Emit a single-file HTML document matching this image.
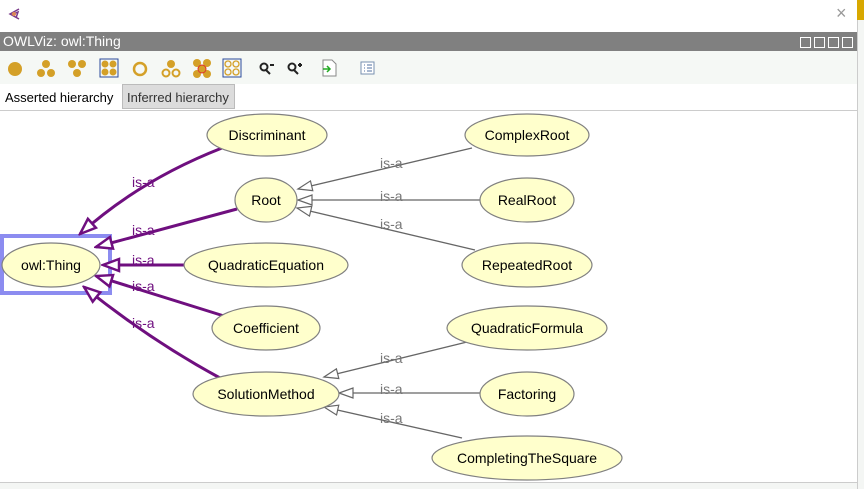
<!DOCTYPE html>
<html><head><meta charset="utf-8"><style>
body{margin:0;width:864px;height:489px;overflow:hidden;background:#fff;font-family:"Liberation Sans",sans-serif;position:relative}
.t{position:absolute}
</style></head><body>
<div class="t" style="left:0;top:0;width:857px;height:32px;background:#fff"></div>
<div class="t" style="left:857px;top:0;width:7px;height:489px;background:#f4f6f4;border-left:1px solid #ccc"></div>
<div class="t" style="left:857px;top:0;width:7px;height:20px;background:#d8a800"></div>
<svg class="t" style="left:8px;top:7px" width="14" height="14"><path d="M11,2 L2,7 L11,12 M5,7 L10,5 L8,11" fill="none" stroke="#7a3a8a" stroke-width="1.5"/><circle cx="6" cy="7" r="2" fill="#d85"/></svg>
<div class="t" style="left:836px;top:3px;font-size:18px;color:#999">×</div>
<div class="t" style="left:0;top:32px;width:857px;height:19px;background:#808080;color:#fff;font-size:14px;line-height:19px;padding-left:3px;box-sizing:border-box">OWLViz: owl:Thing</div>
<div class="t" style="left:800px;top:37px;width:55px;height:12px;display:flex;gap:3px">
<div style="width:9px;height:9px;border:1px solid #fff"></div><div style="width:9px;height:9px;border:1px solid #fff"></div><div style="width:9px;height:9px;border:1px solid #fff"></div><div style="width:9px;height:9px;border:1px solid #fff"></div></div>
<div class="t" style="left:0;top:51px;width:857px;height:33px;background:#f5f8f5"></div>
<svg class="t" style="left:0;top:51px" width="400" height="33">
<g fill="#d4a028">
<circle cx="15" cy="18" r="7"/>
<circle cx="46" cy="13" r="4"/><circle cx="41" cy="22" r="4"/><circle cx="51" cy="22" r="4"/>
<circle cx="72" cy="13" r="4"/><circle cx="82" cy="13" r="4"/><circle cx="77" cy="22" r="4"/>
<rect x="100" y="8" width="18" height="18" fill="none" stroke="#2a4a9a"/><circle cx="105" cy="13" r="3.5"/><circle cx="113" cy="13" r="3.5"/><circle cx="105" cy="21" r="3.5"/><circle cx="113" cy="21" r="3.5"/>
<circle cx="140" cy="18" r="6" fill="none" stroke="#d4a028" stroke-width="2.5"/>
<circle cx="171" cy="13" r="4"/><circle cx="166" cy="22" r="3.5" fill="none" stroke="#d4a028" stroke-width="2"/><circle cx="176" cy="22" r="3.5" fill="none" stroke="#d4a028" stroke-width="2"/>
<circle cx="197" cy="12" r="4"/><circle cx="207" cy="12" r="4"/><circle cx="197" cy="23" r="4"/><circle cx="207" cy="23" r="4"/><circle cx="202" cy="18" r="4" stroke="#e03030"/>
<rect x="223" y="8" width="18" height="18" fill="none" stroke="#2a4a9a"/><g fill="none" stroke="#d4a028" stroke-width="1.3"><circle cx="228" cy="13" r="3"/><circle cx="236" cy="13" r="3"/><circle cx="228" cy="21" r="3"/><circle cx="236" cy="21" r="3"/></g>
</g>
<g stroke="#222" stroke-width="2" fill="none"><circle cx="264" cy="16" r="3.5"/><path d="M266,19 L270,23 M270,14 h4"/><circle cx="292" cy="16" r="3.5"/><path d="M294,19 L298,23 M298,14 h4 M300,12 v4"/></g>
<path d="M323,9 h9 l4,4 v12 h-13z" fill="#fff" stroke="#888"/><path d="M323,18 h7 M327,15 l3,3 -3,3" stroke="#2a2" stroke-width="1.5" fill="none"/>
<rect x="361" y="11" width="13" height="12" fill="#fff" stroke="#7890b0"/><path d="M364,14h1 M367,14h5 M364,17h1 M367,17h5 M364,20h1 M367,20h5" stroke="#5070a0"/>
</svg>
<div class="t" style="left:0;top:84px;width:122px;height:26px;background:#fff;font-size:13px;line-height:27px;padding-left:5px;box-sizing:border-box;color:#000">Asserted hierarchy</div>
<div class="t" style="left:122px;top:84px;width:113px;height:25px;background:#dcdcdc;border:1px solid #bbb;font-size:13px;line-height:26px;padding-left:4px;box-sizing:border-box;color:#333">Inferred hierarchy</div>
<div class="t" style="left:0;top:110px;width:857px;height:373px;border-top:1px solid #ccc;border-bottom:1px solid #ccc;box-sizing:border-box"></div>
<div class="t" style="left:0;top:483px;width:857px;height:6px;background:#f4f6f4"></div>
<svg class="t" style="left:0;top:0" width="857" height="489" font-family="Liberation Sans, sans-serif">
<defs>
<marker id="p" markerUnits="userSpaceOnUse" markerWidth="20" markerHeight="16" refX="18" refY="8" orient="auto" viewBox="0 0 20 16"><path d="M18,8 L2,2 L2,14 Z" fill="#fff" stroke="#6f0f7f" stroke-width="2.5"/></marker>
<marker id="g" markerUnits="userSpaceOnUse" markerWidth="18" markerHeight="14" refX="16" refY="7" orient="auto" viewBox="0 0 18 14"><path d="M16,7 L2,2 L2,12 Z" fill="#fff" stroke="#666" stroke-width="1.2"/></marker>
</defs>
<rect x="2" y="236" width="108" height="57" fill="none" stroke="#8c8cf0" stroke-width="4"/>
<g fill="none" stroke="#6f0f7f" stroke-width="3">
<path d="M222,148 Q140,180 80,234" marker-end="url(#p)"/>
<path d="M237,209 L96,247" marker-end="url(#p)"/>
<path d="M185,265 L103,265" marker-end="url(#p)"/>
<path d="M224,316 L96,276" marker-end="url(#p)"/>
<path d="M220,378 Q150,340 84,287" marker-end="url(#p)"/>
</g>
<g fill="none" stroke="#666" stroke-width="1.3">
<path d="M472,148 L298,189" marker-end="url(#g)"/>
<path d="M480,200 L298,200" marker-end="url(#g)"/>
<path d="M475,250 L297,208" marker-end="url(#g)"/>
<path d="M467,342 L324,377" marker-end="url(#g)"/>
<path d="M480,393 L339,393" marker-end="url(#g)"/>
<path d="M462,438 L324,407" marker-end="url(#g)"/>
</g>
<g font-size="14" fill="#6f0f7f">
<text x="132" y="187">is-a</text><text x="132" y="235">is-a</text><text x="132" y="265">is-a</text><text x="132" y="291">is-a</text><text x="132" y="328">is-a</text>
</g>
<g font-size="14" fill="#777">
<text x="380" y="168">is-a</text><text x="380" y="201">is-a</text><text x="380" y="229">is-a</text><text x="380" y="363">is-a</text><text x="380" y="394">is-a</text><text x="380" y="423">is-a</text>
</g>
<g fill="#ffffcc" stroke="#808080" stroke-width="1.2">
<ellipse cx="51" cy="265" rx="49" ry="22"/>
<ellipse cx="267" cy="135" rx="60" ry="21"/>
<ellipse cx="266" cy="200" rx="31" ry="22"/>
<ellipse cx="266" cy="265" rx="82" ry="22"/>
<ellipse cx="266" cy="328" rx="54" ry="22"/>
<ellipse cx="266" cy="394" rx="73" ry="22"/>
<ellipse cx="527" cy="135" rx="62" ry="21"/>
<ellipse cx="527" cy="200" rx="47" ry="22"/>
<ellipse cx="527" cy="265" rx="65" ry="22"/>
<ellipse cx="527" cy="328" rx="80" ry="22"/>
<ellipse cx="527" cy="394" rx="47" ry="22"/>
<ellipse cx="527" cy="458" rx="95" ry="22"/>
</g>
<g font-size="14" fill="#000" text-anchor="middle">
<text x="51" y="270">owl:Thing</text>
<text x="267" y="140">Discriminant</text>
<text x="266" y="205">Root</text>
<text x="266" y="270">QuadraticEquation</text>
<text x="266" y="333">Coefficient</text>
<text x="266" y="399">SolutionMethod</text>
<text x="527" y="140">ComplexRoot</text>
<text x="527" y="205">RealRoot</text>
<text x="527" y="270">RepeatedRoot</text>
<text x="527" y="333">QuadraticFormula</text>
<text x="527" y="399">Factoring</text>
<text x="527" y="463">CompletingTheSquare</text>
</g>
</svg>
</body></html>
